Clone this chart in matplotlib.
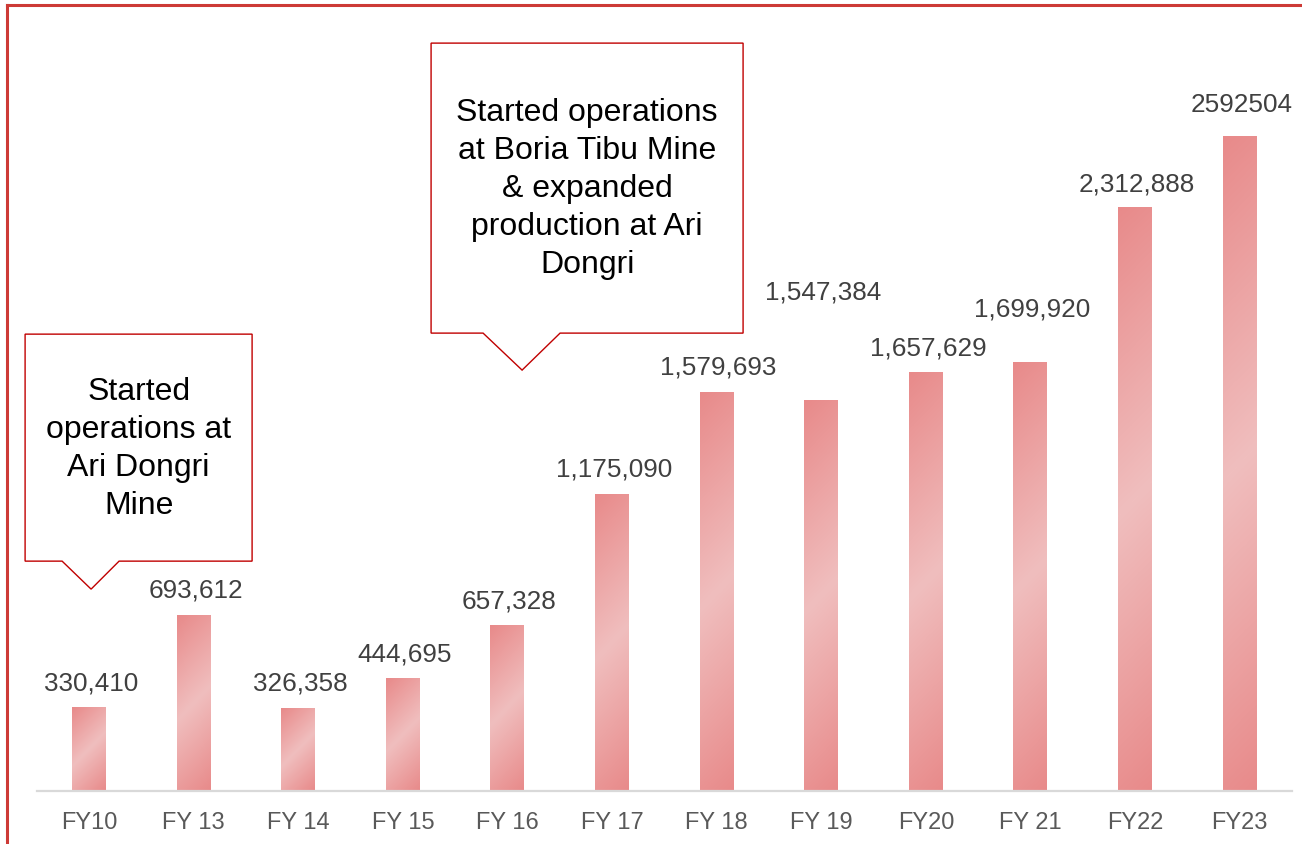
import numpy as np
import matplotlib
matplotlib.use("Agg")
import matplotlib.pyplot as plt
from matplotlib.colors import LinearSegmentedColormap
from matplotlib.patches import Polygon
from matplotlib.lines import Line2D

# ---------------- data ----------------
categories = ["FY10", "FY 13", "FY 14", "FY 15", "FY 16", "FY 17",
              "FY 18", "FY 19", "FY20", "FY 21", "FY22", "FY23"]
production = [330410, 693612, 326358, 444695, 657328, 1175090,
              1579693, 1547384, 1657629, 1699920, 2312888, 2592504]
value_labels = [f"{v:,}" for v in production[:-1]] + [str(production[-1])]

callout_texts = [
    "Started\noperations at\nAri Dongri\nMine",
    "Started operations\nat Boria Tibu Mine\n& expanded\nproduction at Ari\nDongri",
]
callout_tips = [(0.02, 800000), (4.14, 1668000)]

# ---------------- style ----------------
W, H, DPI = 1302, 844, 100
plt.rcParams['font.family'] = ['Liberation Sans', 'DejaVu Sans']
dark = "#E88A8A"
light = "#F0BEBE"
cmap = LinearSegmentedColormap.from_list("g", [light, dark])

fig = plt.figure(figsize=(W / DPI, H / DPI), dpi=DPI)
ax = fig.add_axes([36.7 / W, (H - 791) / H, (1292 - 36.7) / W, (791 - 34) / H])

x = np.arange(len(categories))
bars = ax.bar(x, production, width=0.325, color="none", edgecolor="none")
ax.set_xlim(-0.5, len(categories) - 0.5)
ax.set_ylim(0, 3000000)

# 45-degree reflected gradient in pixel space over each bar's box
for b in bars:
    bx, bw, bh = b.get_x(), b.get_width(), b.get_height()
    (x0, y0), (x1, y1) = ax.transData.transform([(bx, 0), (bx + bw, bh)])
    wp, hp = abs(x1 - x0), abs(y1 - y0)
    m, n = max(int(wp), 2), max(int(hp), 2)
    u = np.linspace(0, wp, m)[None, :]
    v = np.linspace(0, hp, n)[:, None]
    t = (u + v) / (wp + hp)
    s = np.abs(t - 0.5) * 2
    ax.imshow(s, cmap=cmap, vmin=0, vmax=1, extent=[bx, bx + bw, 0, bh],
              origin="upper", aspect="auto", interpolation="bilinear", zorder=2)

ax.set_xlim(-0.5, len(categories) - 0.5)
ax.set_ylim(0, 3000000)

# value labels (offsets in pixels above bar tops)
label_offsets = [24, 25, 25, 24, 24, 25, 25, 108, 24, 53, 23, 32]
for xi, val, lab, off in zip(x, production, value_labels, label_offsets):
    ax.annotate(lab, (xi, val), xytext=(2, off), textcoords="offset pixels",
                ha="center", va="center", fontsize=18.8, color="#404040")

for sp in ["top", "right", "left"]:
    ax.spines[sp].set_visible(False)
ax.spines["bottom"].set_color("#D9D9D9")
ax.spines["bottom"].set_linewidth(1.6)
ax.set_yticks([])
ax.set_xticks(x)
ax.set_xticklabels(categories, fontsize=17, color="#595959")
ax.tick_params(axis="x", length=0, pad=15)

# callouts (geometry in pixels relative to tip)
callout_geom = [
    # left, right, bottom(above tip), top(above tip), ptr_left, ptr_right
    (-66, 161, 28, 255, -29, 28),
    (-91, 221, 37, 327, -39, 38),
]
to_fig = fig.transFigure.inverted()
for (tx, ty), txt, g in zip(callout_tips, callout_texts, callout_geom):
    px, py = ax.transData.transform((tx, ty))
    l, r, bo, to, pl, pr = g
    pts = [(px + pl, py + bo), (px, py), (px + pr, py + bo),
           (px + r, py + bo), (px + r, py + to), (px + l, py + to),
           (px + l, py + bo)]
    fpts = to_fig.transform(pts)
    fig.add_artist(Polygon(fpts, closed=True, facecolor="white",
                           edgecolor="#C00000", linewidth=1.0, zorder=5))
    cx, cy = to_fig.transform((px + (l + r) / 2, py + (bo + to) / 2 - 1))
    fig.text(cx, cy, txt, ha="center", va="center", fontsize=23,
             color="black", linespacing=1.35, zorder=6)

# outer red frame
fig.add_artist(Line2D([7 / W, 7 / W], [0, 1 - 5 / H], color="#CD3A36",
                      linewidth=2.2, transform=fig.transFigure))
fig.add_artist(Line2D([7 / W, 1], [1 - 5 / H, 1 - 5 / H], color="#CD3A36",
                      linewidth=2.2, transform=fig.transFigure))

fig.savefig("out.png", dpi=DPI, facecolor="white")
